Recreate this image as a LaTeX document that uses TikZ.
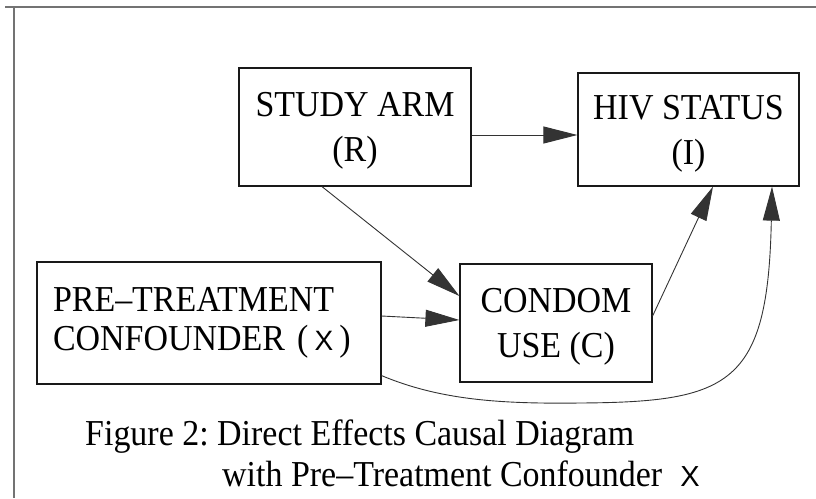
\documentclass[tikz,border=0pt]{standalone}
\usepackage{fontspec}
\setmainfont{Liberation Serif}[FakeStretch=0.93]
\setsansfont{Liberation Sans}
\usetikzlibrary{arrows.meta}
\frenchspacing
\begin{document}
\begin{tikzpicture}[x=1pt,y=-1pt,
  box/.style={draw=black!90, line width=1.2pt, inner sep=0pt, font=\fontsize{36.5}{45}\selectfont},
  cbox/.style={box, text depth=0pt, align=center},
  conn/.style={draw=black!80, line width=0.9pt, -{Triangle[length=34pt,width=17pt]}},
  frameline/.style={draw=black!55, line width=1.5pt},
  captext/.style={anchor=base west, inner sep=0pt, font=\fontsize{36.5}{41}\selectfont}]
\useasboundingbox (0,0) rectangle (816,498);
\draw[frameline] (5,7) -- (816,7);
\draw[frameline] (14,7) -- (14,498);
\node[cbox, minimum width=232pt, minimum height=118pt] (R) at (355,127) {STUDY ARM\\(R)};
\node[cbox, minimum width=221pt, minimum height=113pt] (I) at (688.5,129.5) {HIV STATUS\\(I)};
\node[cbox, minimum width=192pt, minimum height=118pt] (C) at (556,323) {CONDOM\\USE (C)};
\node[box, minimum width=344pt, minimum height=122pt, text width=312pt, align=left, font=\fontsize{36.5}{39}\selectfont] (X) at (209,323) {PRE–TREATMENT\\CONFOUNDER (\,{\fontsize{28}{28}\sffamily X}\,)};
\node[captext] (cap1) at (85,445) {Figure 2: Direct Effects Causal Diagram};
\node[captext] (cap2) at (222,486) {with Pre–Treatment Confounder\hspace{0.5em}{\fontsize{29}{29}\sffamily X}};
\draw[conn] ([yshift=-8pt]R.east) -- ([yshift=-5.5pt]I.west);
\draw[conn] ([xshift=-33pt]R.south) -- ([yshift=27pt]C.west);
\draw[conn] ([yshift=7pt]X.east) -- ([yshift=3pt]C.west);
\draw[conn] ([yshift=7pt]C.east) -- ([xshift=24.5pt]I.south);
\draw[conn] ([yshift=9pt]X.south east) .. controls (440,400) and (500,404) .. (580,403) .. controls (730,402) and (768,385) .. ([xshift=83.5pt]I.south);
\end{tikzpicture}
\end{document}
